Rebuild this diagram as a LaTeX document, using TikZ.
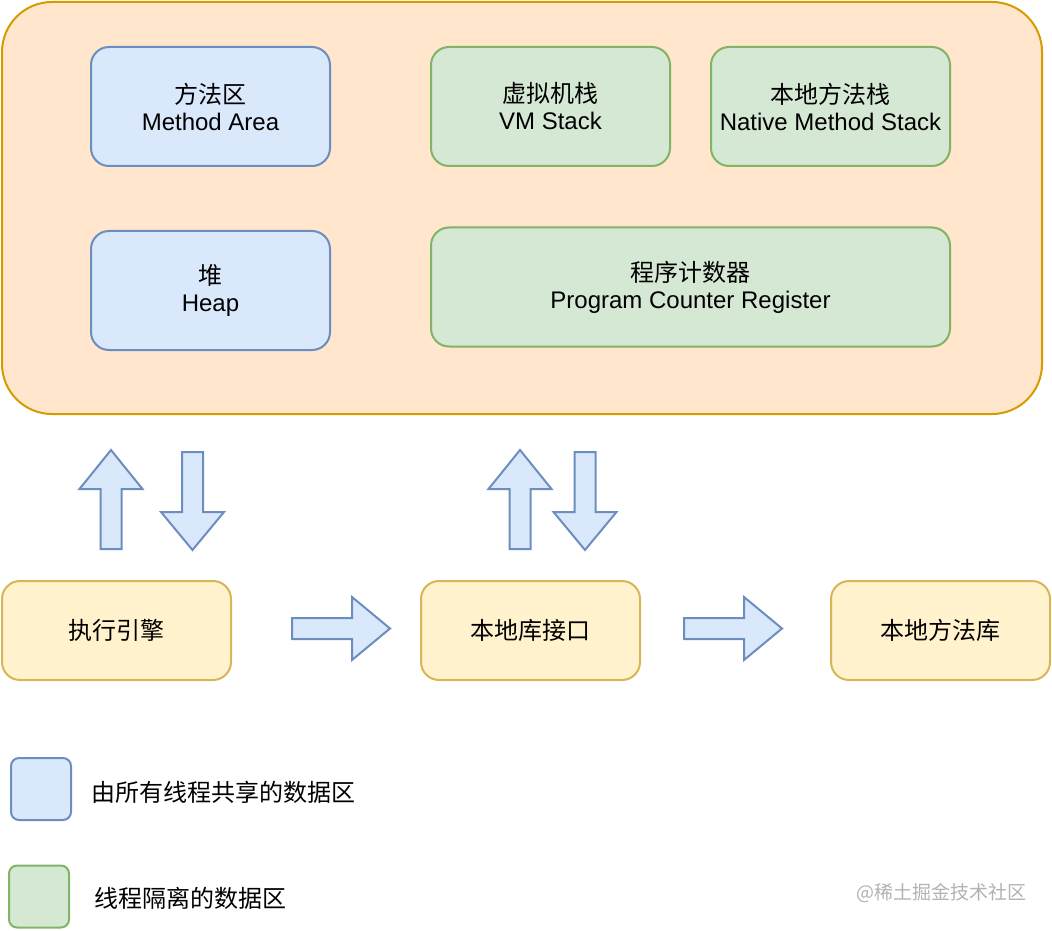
\documentclass[tikz,border=0pt]{standalone}
\usepackage{fontspec}
\setmainfont{Liberation Sans}
\newfontfamily\cjk{Noto Sans CJK SC}
\usepackage{xcolor}
\definecolor{blueFill}{HTML}{DAE8FC}
\definecolor{blueLine}{HTML}{6C8EBF}
\definecolor{greenFill}{HTML}{D5E8D4}
\definecolor{greenLine}{HTML}{82B366}
\definecolor{orangeFill}{HTML}{FFE6CC}
\definecolor{orangeLine}{HTML}{D79B00}
\definecolor{yellowFill}{HTML}{FFF2CC}
\definecolor{yellowLine}{HTML}{D6B656}

\begin{document}
\begin{tikzpicture}[x=0.5pt,y=-0.5pt,line width=1pt,font=\fontsize{12}{13.5}\selectfont]
  \tikzstyle{area}=[rectangle,rounded corners=9pt,align=center,inner sep=0pt]
  \tikzstyle{shared}=[area,fill=blueFill,draw=blueLine,minimum width=119.5pt,minimum height=59.5pt]
  \tikzstyle{private}=[area,fill=greenFill,draw=greenLine,minimum width=119.5pt,minimum height=59.5pt]
  \tikzstyle{part}=[area,fill=yellowFill,draw=yellowLine,minimum width=109.5pt,minimum height=49.5pt]
  \tikzstyle{blockarrow}=[fill=blueFill,draw=blueLine,line join=miter]
  \tikzstyle{key}=[rectangle,rounded corners=4pt,minimum width=30pt,minimum height=31pt,inner sep=0pt]

  \useasboundingbox (0,0) rectangle (1052,930);

  % runtime data area
  \node[area,fill=orangeFill,draw=orangeLine,rounded corners=25pt,
        minimum width=520pt,minimum height=206pt] (runtime) at (522,208) {};

  \node[shared] (method) at (210.5,106.5) {{\cjk 方法区}\\Method Area};
  \node[shared] (heap) at (210.5,290.5) {{\cjk 堆}\\Heap};
  \node[private] (vmstack) at (550.5,106.5) {{\cjk 虚拟机栈}\\VM Stack};
  \node[private] (native) at (830.5,106.5) {{\cjk 本地方法栈}\\Native Method Stack};
  \node[private,minimum width=259.5pt] (pc) at (690.5,287) {{\cjk 程序计数器}\\Program Counter Register};

  % engine and native interface
  \node[part,minimum width=114.5pt] (engine) at (116.5,630.5) {\cjk 执行引擎};
  \node[part] (nativeif) at (530.5,630.5) {\cjk 本地库接口};
  \node[part] (nativelib) at (940.5,630.5) {\cjk 本地方法库};

  % block arrows
  \foreach \cx in {111,520}
    \draw[blockarrow] ({\cx-10.5},549) -- ({\cx-10.5},489) -- ({\cx-31.5},489) -- (\cx,450)
      -- ({\cx+31.5},489) -- ({\cx+10.5},489) -- ({\cx+10.5},549) -- cycle;
  \foreach \cx in {192.5,585}
    \draw[blockarrow] ({\cx-10.5},452) -- ({\cx+10.5},452) -- ({\cx+10.5},512) -- ({\cx+31.5},512)
      -- (\cx,550) -- ({\cx-31.5},512) -- ({\cx-10.5},512) -- cycle;
  \foreach \sx in {292,684}
    \draw[blockarrow] (\sx,618) -- ({\sx+60},618) -- ({\sx+60},597) -- ({\sx+98},628.5)
      -- ({\sx+60},660) -- ({\sx+60},639) -- (\sx,639) -- cycle;

  % legend
  \node[key,fill=blueFill,draw=blueLine] (keyshared) at (41,789) {};
  \node[anchor=west,inner sep=0pt] (txtshared) at (90,792) {\cjk 由所有线程共享的数据区};
  \node[key,fill=greenFill,draw=greenLine] (keyprivate) at (39,896.5) {};
  \node[anchor=west,inner sep=0pt] (txtprivate) at (93,898) {\cjk 线程隔离的数据区};

  \node[anchor=east,inner sep=0pt,text=black!30,font=\fontsize{9.5}{11}\selectfont] (mark) at (1027,893) {\cjk @稀土掘金技术社区};
\end{tikzpicture}
\end{document}
